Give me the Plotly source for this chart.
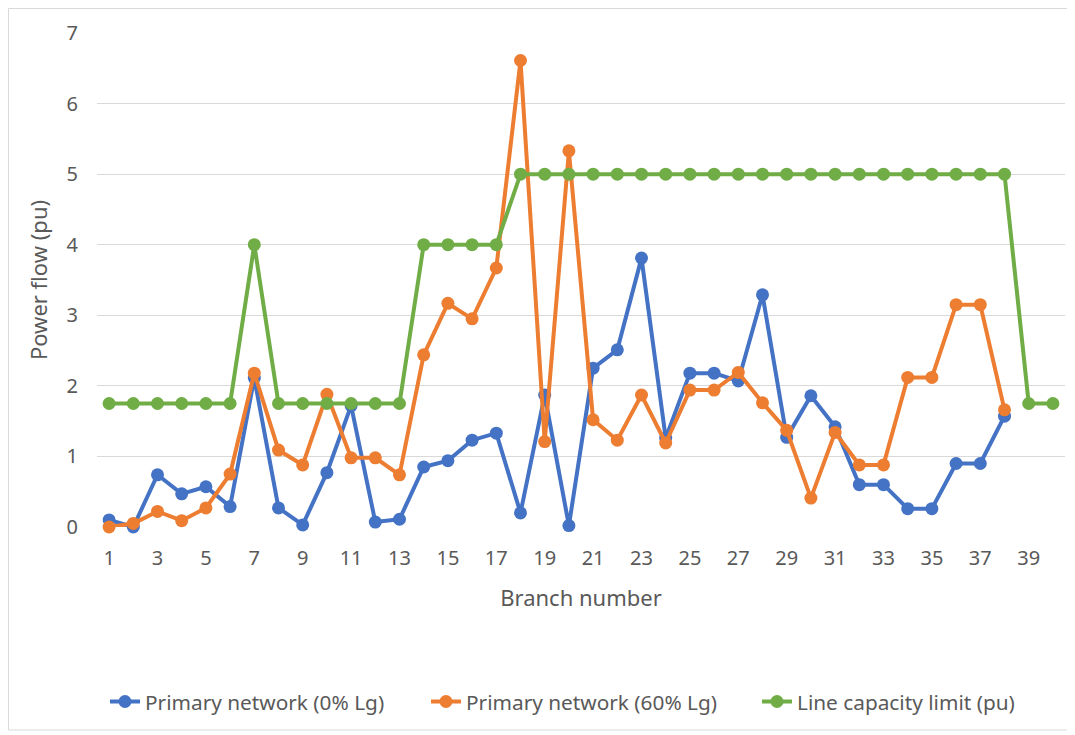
import plotly.graph_objects as go

branches = list(range(1, 41))
primary_0 = [0.10, 0.00, 0.74, 0.47, 0.57, 0.29, 2.11, 0.27, 0.03, 0.77,
             1.72, 0.07, 0.11, 0.85, 0.94, 1.23, 1.33, 0.20, 1.87, 0.02,
             2.25, 2.51, 3.81, 1.26, 2.18, 2.18, 2.07, 3.29, 1.27, 1.86,
             1.42, 0.60, 0.60, 0.26, 0.26, 0.90, 0.90, 1.57]
primary_60 = [0.00, 0.05, 0.22, 0.09, 0.27, 0.75, 2.18, 1.09, 0.88, 1.88,
              0.98, 0.98, 0.74, 2.44, 3.17, 2.95, 3.67, 6.61, 1.21, 5.33,
              1.52, 1.23, 1.87, 1.19, 1.94, 1.94, 2.19, 1.76, 1.37, 0.41,
              1.34, 0.88, 0.88, 2.12, 2.12, 3.15, 3.15, 1.66]
capacity = [1.75]*6 + [4] + [1.75]*6 + [4]*4 + [5]*21 + [1.75]*2
x_ticks = list(range(1, 40, 2))
y_ticks = list(range(0, 8))

names = ["Primary network (0% Lg)", "Primary network (60% Lg)", "Line capacity limit (pu)"]
colors = ["#4472C4", "#ED7D31", "#70AD47"]
series = [primary_0, primary_60, capacity]
legend_ids = ["legend", "legend2", "legend3"]

# page has an 8px body offset; figure placed so the plot area sits at x 97..1065, y 33..527
W, H = 1067, 727
L, T, R, B = 89, 25, 10, 208
pw, ph = W - L - R, H - T - B

fig = go.Figure()
for name, col, vals, lg in zip(names, colors, series, legend_ids):
    fig.add_trace(go.Scatter(
        x=branches[:len(vals)], y=vals, name=name, mode="lines+markers",
        line=dict(color=col, width=4), marker=dict(color=col, size=13),
        cliponaxis=False, legend=lg,
    ))

legend_y = (T + ph - 694) / ph
legend_text_start_page = [145, 466, 797]


def legend_cfg(text_start_page):
    # legend text begins ~40px after the legend's left edge
    fx = text_start_page - 8 - 40
    return dict(orientation="h", x=(fx - L) / pw, xanchor="left",
                y=legend_y, yanchor="middle", bgcolor="rgba(0,0,0,0)",
                font=dict(size=20.8, color="#595959", family="Noto Sans"))


fig.update_layout(
    width=W, height=H,
    margin=dict(l=L, r=R, t=T, b=B),
    paper_bgcolor="white", plot_bgcolor="white",
    font=dict(family="Noto Sans", color="#595959", size=20),
    showlegend=True,
    legend=legend_cfg(legend_text_start_page[0]),
    legend2=legend_cfg(legend_text_start_page[1]),
    legend3=legend_cfg(legend_text_start_page[2]),
    xaxis=dict(range=[0.5, 40.5], tickmode="array", tickvals=x_ticks,
               showgrid=False, zeroline=False, showline=False, ticks="",
               ticklabelstandoff=17,
               title=dict(text="Branch number", font=dict(size=22), standoff=20),
               tickfont=dict(size=20)),
    yaxis=dict(range=[0, 7], tickmode="array", tickvals=y_ticks,
               showgrid=True, gridcolor="#D9D9D9", gridwidth=1.3, zeroline=False,
               showline=False, ticks="", ticklabelstandoff=18,
               title=dict(text="Power flow (pu)", font=dict(size=22), standoff=12),
               tickfont=dict(size=20)),
)
fig.add_shape(type="rect", xref="paper", yref="paper",
              x0=(0.5 - L) / pw, x1=(1062 - L) / pw,
              y0=(T + ph - 722) / ph, y1=(T + ph - 0.5) / ph,
              line=dict(color="#D9D9D9", width=1), fillcolor="rgba(0,0,0,0)", layer="below")
fig.write_html("out.html")
